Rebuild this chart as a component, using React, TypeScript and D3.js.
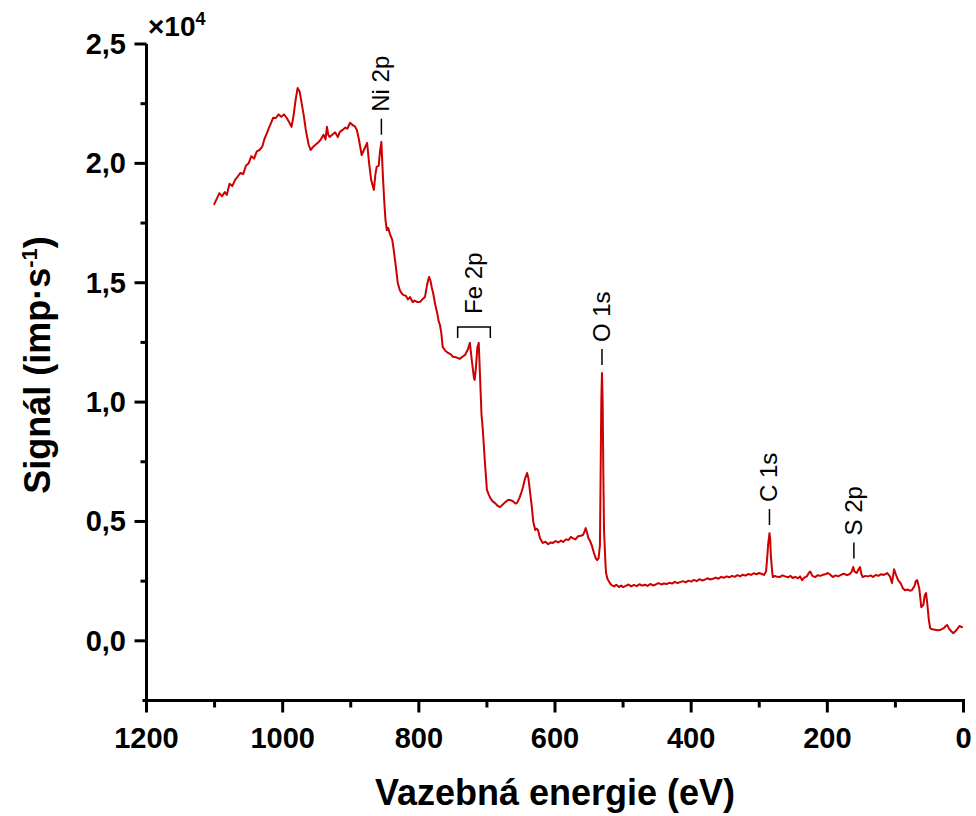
import React from "react"
import * as d3 from "d3"

const WIDTH = 976
const HEIGHT = 816
const PLOT = { left: 146.5, right: 963.5, top: 44, bottom: 700.5 }
const FONT = "'Liberation Sans', Arial, sans-serif"
const LINE_COLOR = "#cc0000"

// binding energy (eV)
const energy = [
    1101, 1097, 1093, 1089, 1085, 1082, 1078, 1074, 1070, 1066, 1062, 1058, 1054, 1050,
    1046, 1042, 1038, 1034, 1030, 1027, 1023, 1020, 1017, 1014, 1010, 1006, 1002, 998,
    994, 990, 987, 984, 981, 978, 975, 972, 969, 966, 962, 959, 955, 951, 947, 944, 940,
    937, 935, 933, 931, 927, 923, 919, 916, 912, 908, 905, 901, 897, 894, 891, 888, 884,
    880, 876, 873, 870, 866, 864, 862, 859, 857, 855, 853, 851, 849, 847, 845, 842, 839,
    837, 835, 833, 831, 828, 825, 823, 819, 816, 813, 811, 809, 806, 802, 798, 795, 791,
    788, 785, 783, 781, 779, 776, 773, 771, 769, 767, 765, 761, 757, 753, 750, 747, 743,
    740, 736, 732, 728, 725, 722, 719, 718, 716, 714, 712, 710, 708, 706, 703, 700, 697,
    695, 692, 688, 684, 681, 677, 673, 669, 666, 662, 658, 656, 652, 649, 647, 644, 641,
    639, 637, 634, 632, 629, 627, 625, 622, 618, 614, 610, 606, 603, 599, 595, 591, 588,
    584, 580, 577, 574, 570, 566, 562, 559, 557, 555, 553, 551, 549, 546, 543, 540, 538,
    536, 534, 533, 532, 531, 530, 529, 528, 526, 525, 523, 520, 517, 513, 510, 506, 503,
    500, 496, 492, 488, 484, 480, 476, 472, 468, 464, 460, 456, 452, 448, 444, 440, 436,
    432, 428, 424, 420, 416, 412, 408, 404, 400, 396, 392, 388, 384, 380, 376, 372, 368,
    364, 360, 356, 352, 348, 344, 340, 336, 332, 328, 324, 320, 316, 312, 308, 304, 300,
    296, 293, 290, 288, 287, 285, 284, 283, 281, 280, 277, 274, 270, 266, 262, 258, 254,
    251, 247, 243, 240, 237, 234, 230, 227, 225, 222, 218, 214, 210, 206, 202, 199, 196,
    192, 188, 184, 180, 176, 171, 167, 164, 162, 160, 157, 155, 152, 150, 148, 144, 140,
    136, 133, 129, 125, 121, 117, 112, 108, 105, 103, 102, 99, 96, 92, 89, 86, 82, 79, 76,
    72, 70, 68, 65, 62, 59, 57, 55, 53, 51, 49, 46, 42, 38, 35, 31, 28, 26, 24, 21, 18,
    15, 12, 9, 6, 3, 1,
]

// signal in units of 1e4 imp/s, same order as energy
const signal = [
    1.826, 1.85, 1.875, 1.862, 1.88, 1.868, 1.915, 1.905, 1.93, 1.945, 1.96, 1.955, 1.99, 2.0,
    2.03, 2.02, 2.05, 2.056, 2.07, 2.1, 2.128, 2.15, 2.17, 2.191, 2.19, 2.205, 2.195, 2.205,
    2.19, 2.17, 2.153, 2.2, 2.266, 2.316, 2.3, 2.25, 2.2, 2.14, 2.08, 2.056, 2.07, 2.08, 2.09,
    2.1, 2.12, 2.1, 2.153, 2.12, 2.111, 2.12, 2.13, 2.11, 2.132, 2.14, 2.15, 2.145, 2.17, 2.16,
    2.155, 2.14, 2.1, 2.035, 2.06, 2.086, 2.0, 1.93, 1.889, 1.95, 1.985, 1.99, 2.05, 2.09,
    1.96, 1.85, 1.763, 1.72, 1.73, 1.7, 1.679, 1.64, 1.596, 1.55, 1.499, 1.47, 1.455, 1.449,
    1.445, 1.43, 1.44, 1.43, 1.419, 1.425, 1.419, 1.42, 1.43, 1.44, 1.49, 1.524, 1.51, 1.48,
    1.457, 1.41, 1.373, 1.34, 1.323, 1.29, 1.231, 1.215, 1.206, 1.2, 1.19, 1.189, 1.185,
    1.181, 1.19, 1.198, 1.22, 1.248, 1.17, 1.1, 1.093, 1.15, 1.23, 1.248, 1.1, 0.95, 0.883,
    0.75, 0.632, 0.61, 0.598, 0.585, 0.577, 0.565, 0.56, 0.57, 0.581, 0.59, 0.59, 0.585,
    0.575, 0.577, 0.6, 0.625, 0.644, 0.68, 0.703, 0.68, 0.632, 0.56, 0.5, 0.464, 0.47, 0.464,
    0.43, 0.41, 0.415, 0.405, 0.412, 0.41, 0.418, 0.412, 0.42, 0.414, 0.425, 0.422, 0.435,
    0.43, 0.425, 0.438, 0.44, 0.443, 0.455, 0.472, 0.455, 0.43, 0.422, 0.4, 0.37, 0.345,
    0.338, 0.345, 0.4, 0.7, 1.0, 1.122, 1.0, 0.7, 0.464, 0.33, 0.284, 0.26, 0.245, 0.233,
    0.228, 0.235, 0.225, 0.232, 0.225, 0.23, 0.236, 0.228, 0.234, 0.229, 0.237, 0.231, 0.235,
    0.23, 0.238, 0.232, 0.236, 0.242, 0.236, 0.24, 0.238, 0.243, 0.24, 0.247, 0.242, 0.246,
    0.25, 0.245, 0.252, 0.248, 0.255, 0.25, 0.258, 0.253, 0.256, 0.262, 0.257, 0.26, 0.265,
    0.26, 0.268, 0.264, 0.27, 0.266, 0.272, 0.268, 0.275, 0.27, 0.277, 0.273, 0.28, 0.276,
    0.283, 0.279, 0.284, 0.28, 0.276, 0.29, 0.36, 0.401, 0.451, 0.43, 0.359, 0.29, 0.267,
    0.272, 0.268, 0.267, 0.274, 0.27, 0.266, 0.272, 0.263, 0.268, 0.262, 0.27, 0.254, 0.265,
    0.27, 0.285, 0.29, 0.272, 0.267, 0.275, 0.272, 0.277, 0.28, 0.284, 0.278, 0.267, 0.274,
    0.27, 0.276, 0.281, 0.275, 0.28, 0.29, 0.309, 0.29, 0.284, 0.295, 0.309, 0.28, 0.267,
    0.272, 0.27, 0.274, 0.267, 0.276, 0.272, 0.279, 0.276, 0.284, 0.27, 0.242, 0.28, 0.3,
    0.275, 0.254, 0.24, 0.22, 0.212, 0.215, 0.21, 0.212, 0.23, 0.25, 0.254, 0.22, 0.141, 0.15,
    0.19, 0.2, 0.15, 0.09, 0.053, 0.048, 0.046, 0.044, 0.045, 0.05, 0.055, 0.063, 0.066, 0.05,
    0.04, 0.032, 0.04, 0.05, 0.062, 0.058, 0.057,
]

// peak labels: text, energy of the marker, signal at the tip of the marker
const peakNames = ["Ni 2p", "O 1s", "C 1s", "S 2p"]
const peakEnergy = [855, 531, 285, 161]
const peakTip = [2.12, 1.155, 0.485, 0.345]

// Fe 2p bracket spans the two spin-orbit components
const feRange = [743, 695]
const feTip = 1.315

const xTicks = [1200, 1000, 800, 600, 400, 200, 0]
const yTicks = [0, 0.5, 1.0, 1.5, 2.0, 2.5]

const fmtY = (v: number) => d3.format(".1f")(v).replace(".", ",")

export default function App() {
    const x = d3.scaleLinear().domain([1200, 0]).range([PLOT.left, PLOT.right])
    const y = d3.scaleLinear().domain([-0.25, 2.5]).range([PLOT.bottom, PLOT.top])

    const points: [number, number][] = energy.map((e, i) => [e, signal[i]])
    const path = d3
        .line<[number, number]>()
        .x((d) => x(d[0]))
        .y((d) => y(d[1]))(points)

    const xMinor = d3.range(1100, 0, -200)
    const yMinor = d3.range(0.25, 2.5, 0.5)

    return (
        <div style={{ position: "absolute", left: 0, top: 0 }}>
            <svg width={WIDTH} height={HEIGHT} style={{ display: "block", fontFamily: FONT }}>
                <rect width={WIDTH} height={HEIGHT} fill="#fff" />

                <path d={path || ""} fill="none" stroke={LINE_COLOR} strokeWidth={2} strokeLinejoin="round" />

                {/* axes */}
                <g stroke="#000" strokeWidth={3}>
                    <line x1={PLOT.left} x2={PLOT.left} y1={PLOT.top} y2={PLOT.bottom + 1.5} />
                    <line x1={PLOT.left - 4} x2={PLOT.right + 1.5} y1={PLOT.bottom} y2={PLOT.bottom} />
                    {xTicks.map((t) => (
                        <line key={"xt" + t} x1={x(t)} x2={x(t)} y1={PLOT.bottom} y2={PLOT.bottom + 12} />
                    ))}
                    {xMinor.map((t) => (
                        <line key={"xm" + t} x1={x(t)} x2={x(t)} y1={PLOT.bottom} y2={PLOT.bottom + 7} />
                    ))}
                    {yTicks.map((t) => (
                        <line key={"yt" + t} x1={PLOT.left - 12} x2={PLOT.left} y1={y(t)} y2={y(t)} />
                    ))}
                    {yMinor.map((t) => (
                        <line key={"ym" + t} x1={PLOT.left - 6} x2={PLOT.left} y1={y(t)} y2={y(t)} />
                    ))}
                </g>

                {xTicks.map((t) => (
                    <text key={"xl" + t} x={x(t)} y={748} textAnchor="middle" fontSize={29} fontWeight="bold">
                        {t}
                    </text>
                ))}
                {yTicks.map((t) => (
                    <text key={"yl" + t} x={126} y={y(t) + 10} textAnchor="end" fontSize={29} fontWeight="bold">
                        {fmtY(t)}
                    </text>
                ))}

                <text x={148} y={36} fontSize={28} fontWeight="bold">
                    ×10<tspan dy={-11} fontSize={18}>4</tspan>
                </text>

                <text x={555} y={805} textAnchor="middle" fontSize={36} fontWeight="bold">
                    Vazebná energie (eV)
                </text>
                <text
                    transform={`translate(50,365) rotate(-90)`}
                    textAnchor="middle"
                    fontSize={36}
                    fontWeight="bold"
                >
                    Signál (imp·s<tspan dy={-13} fontSize={22}>-1</tspan>
                    <tspan dy={13}>)</tspan>
                </text>

                {/* peak markers */}
                {peakNames.map((name, i) => {
                    const px = x(peakEnergy[i])
                    const tip = y(peakTip[i])
                    return (
                        <g key={name}>
                            <line x1={px} x2={px} y1={tip} y2={tip - 16} stroke="#000" strokeWidth={1.5} />
                            <text
                                transform={`translate(${px + 8},${tip - 23}) rotate(-90)`}
                                fontSize={24}
                            >
                                {name}
                            </text>
                        </g>
                    )
                })}

                <g>
                    <path
                        d={`M${x(feRange[0])},${y(feTip) + 11}V${y(feTip)}H${x(feRange[1])}V${y(feTip) + 11}`}
                        fill="none"
                        stroke="#000"
                        strokeWidth={1.5}
                    />
                    <text
                        transform={`translate(${(x(feRange[0]) + x(feRange[1])) / 2 + 8},${y(feTip) - 13}) rotate(-90)`}
                        fontSize={24}
                    >
                        Fe 2p
                    </text>
                </g>
            </svg>
        </div>
    )
}
